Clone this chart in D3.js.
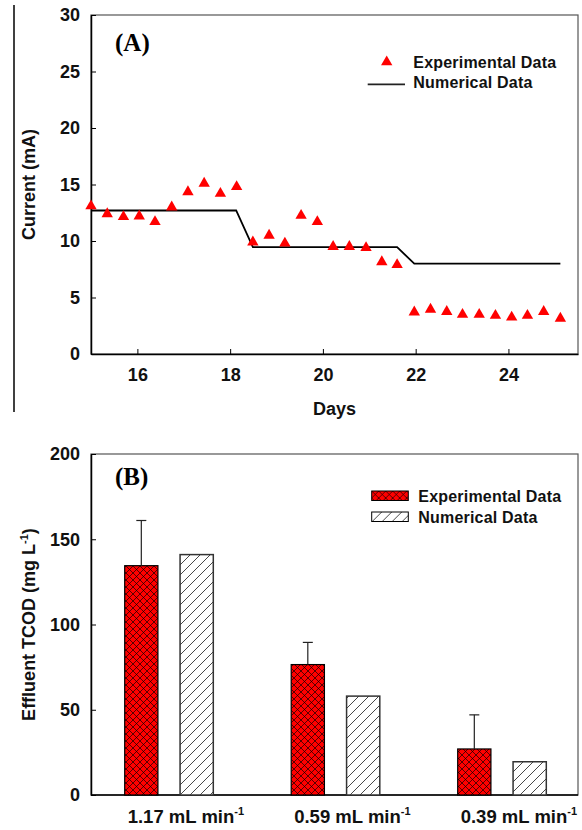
<!DOCTYPE html>
<html>
<head>
<meta charset="utf-8">
<script src="https://cdn.jsdelivr.net/npm/d3@7.9.0/dist/d3.min.js"></script>
<style>
  body { margin: 0; background: #fff; }
  svg { display: block; font-family: "Liberation Sans", Arial, sans-serif; }
</style>
</head>
<body>
<svg id="chart" width="582" height="830"></svg>
<script>
// ---- Panel A data: current vs days ----
const expDays = [15.0, 15.35, 15.7, 16.04, 16.38, 16.74, 17.09, 17.44, 17.79, 18.14,
                 18.49, 18.84, 19.18, 19.53, 19.88, 20.22, 20.57, 20.93, 21.27, 21.6,
                 21.97, 22.32, 22.67, 23.01, 23.37, 23.72, 24.07, 24.41, 24.76, 25.12];
const expCurrent = [13.1, 12.4, 12.15, 12.2, 11.7, 13.0, 14.35, 15.1, 14.2, 14.8,
                    9.9, 10.5, 9.8, 12.25, 11.7, 9.5, 9.5, 9.4, 8.15, 7.9,
                    3.7, 3.95, 3.75, 3.5, 3.5, 3.4, 3.25, 3.4, 3.75, 3.15];
const numDays    = [15.0, 18.13, 18.49, 21.6, 21.97, 25.12];
const numCurrent = [12.7, 12.7, 9.45, 9.45, 8.0, 8.0];
const yTicksA = [0, 5, 10, 15, 20, 25, 30];
const xTicksA = [16, 18, 20, 22, 24];

// ---- Panel B data: effluent TCOD per flow rate ----
const flowRates = ["1.17", "0.59", "0.39"];
const expTCOD   = [134.5, 76.5, 27];
const expErr    = [26.5, 13, 20];
const numTCOD   = [141, 58, 19.5];
const yTicksB = [0, 50, 100, 150, 200];
const seriesB = ["Experimental Data", "Numerical Data"];

const svg = d3.select("#chart");

// patterns for bars
const defs = svg.append("defs");
const cross = defs.append("pattern")
    .attr("id", "crossHatch")
    .attr("patternUnits", "userSpaceOnUse")
    .attr("width", 7).attr("height", 7);
cross.append("rect").attr("width", 7).attr("height", 7).attr("fill", "#ff0000");
cross.append("path")
    .attr("d", "M0,0L7,7M7,0L0,7")
    .attr("stroke", "#000").attr("stroke-width", 0.65);

const hatch = defs.append("pattern")
    .attr("id", "diagHatch")
    .attr("patternUnits", "userSpaceOnUse")
    .attr("width", 10).attr("height", 10);
hatch.append("rect").attr("width", 10).attr("height", 10).attr("fill", "#fff");
hatch.append("path")
    .attr("d", "M0,10L10,0M-1,1L1,-1M9,11L11,9")
    .attr("stroke", "#333").attr("stroke-width", 0.9);

// stray crop line at the far left
svg.append("line")
    .attr("x1", 14).attr("x2", 14).attr("y1", 5).attr("y2", 412)
    .attr("stroke", "#000").attr("stroke-width", 1.5);

// ================= Panel A =================
const mA = { left: 91, top: 15, width: 487, height: 339 };
const gA = svg.append("g").attr("transform", `translate(${mA.left},${mA.top})`);

const xA = d3.scaleLinear().domain([15, 25.5]).range([0, mA.width]);
const yA = d3.scaleLinear().domain([0, 30]).range([mA.height, 0]);

// frame
gA.append("rect")
    .attr("width", mA.width).attr("height", mA.height)
    .attr("fill", "none").attr("stroke", "#555").attr("stroke-width", 1.2);

const axA_x = gA.append("g")
    .attr("transform", `translate(0,${mA.height})`)
    .call(d3.axisBottom(xA).tickValues(xTicksA).tickSizeInner(-5).tickSizeOuter(0).tickPadding(14));
const axA_y = gA.append("g")
    .call(d3.axisLeft(yA).tickValues(yTicksA).tickSizeInner(-5).tickSizeOuter(0).tickPadding(11));
[axA_x, axA_y].forEach(ax => {
    ax.select(".domain").attr("stroke", "#000").attr("stroke-width", 1.5);
    ax.selectAll(".tick line").attr("stroke", "#000");
    ax.selectAll(".tick text")
        .attr("font-size", 18).attr("font-weight", "bold").attr("fill", "#111");
});

// numerical line
gA.append("path")
    .datum(numDays.map((d, i) => [d, numCurrent[i]]))
    .attr("fill", "none")
    .attr("stroke", "#000")
    .attr("stroke-width", 1.8)
    .attr("d", d3.line().x(d => xA(d[0])).y(d => yA(d[1])));

// experimental triangles
const tri = d3.symbol().type(d3.symbolTriangle).size(56);
gA.selectAll(".pt")
    .data(expDays.map((d, i) => [d, expCurrent[i]]))
    .enter()
    .append("path")
    .attr("class", "pt")
    .attr("d", tri)
    .attr("fill", "#ff0000")
    .attr("transform", d => `translate(${xA(d[0])},${yA(d[1])})`);

// panel label
gA.append("text")
    .attr("x", 24).attr("y", 36)
    .attr("font-family", "'Liberation Serif', 'Times New Roman', serif")
    .attr("font-weight", "bold").attr("font-size", 25)
    .text("(A)");

// legend A
gA.append("path")
    .attr("d", tri)
    .attr("fill", "#ff0000")
    .attr("transform", `translate(${386.7 - mA.left},${62 - mA.top})`);
gA.append("line")
    .attr("x1", 367.7 - mA.left).attr("x2", 405 - mA.left)
    .attr("y1", 84.3 - mA.top).attr("y2", 84.3 - mA.top)
    .attr("stroke", "#222").attr("stroke-width", 1.8);
gA.selectAll(".legA")
    .data(seriesB)
    .enter()
    .append("text")
    .attr("x", 413.3 - mA.left)
    .attr("y", (d, i) => 68.3 - mA.top + i * 20)
    .attr("font-size", 16).attr("font-weight", "bold").attr("fill", "#111")
    .attr("letter-spacing", 0.2)
    .text(d => d);

// axis titles A
svg.append("text")
    .attr("transform", `translate(35,${mA.top + mA.height / 2}) rotate(-90)`)
    .attr("text-anchor", "middle")
    .attr("font-size", 18).attr("font-weight", "bold").attr("fill", "#111")
    .text("Current (mA)");
svg.append("text")
    .attr("x", mA.left + mA.width / 2).attr("y", 415)
    .attr("text-anchor", "middle")
    .attr("font-size", 18).attr("font-weight", "bold").attr("fill", "#111")
    .text("Days");

// ================= Panel B =================
const mB = { left: 91, top: 454, width: 487, height: 341 };
const gB = svg.append("g").attr("transform", `translate(${mB.left},${mB.top})`);

const xB = d3.scalePoint().domain(flowRates).range([78, 411]);
const xSub = d3.scaleBand().domain(seriesB).range([-44.3, 44.3]).paddingInner(0.4);
const yB = d3.scaleLinear().domain([0, 200]).range([mB.height, 0]);

gB.append("rect")
    .attr("width", mB.width).attr("height", mB.height)
    .attr("fill", "none").attr("stroke", "#555").attr("stroke-width", 1.2);

const axB_y = gB.append("g")
    .call(d3.axisLeft(yB).tickValues(yTicksB).tickSizeInner(-5).tickSizeOuter(0).tickPadding(11));
axB_y.select(".domain").attr("stroke", "#000").attr("stroke-width", 1.5);
axB_y.selectAll(".tick line").attr("stroke", "#000");
axB_y.selectAll(".tick text")
    .attr("font-size", 18).attr("font-weight", "bold").attr("fill", "#111");
gB.append("line")
    .attr("x1", 0).attr("x2", mB.width)
    .attr("y1", mB.height).attr("y2", mB.height)
    .attr("stroke", "#000").attr("stroke-width", 1.5);

const rows = flowRates.map((f, i) => ({ f, exp: expTCOD[i], err: expErr[i], num: numTCOD[i] }));

// experimental bars
gB.selectAll(".barExp")
    .data(rows)
    .enter()
    .append("rect")
    .attr("class", "barExp")
    .attr("x", d => xB(d.f) + xSub(seriesB[0]))
    .attr("y", d => yB(d.exp))
    .attr("width", xSub.bandwidth())
    .attr("height", d => mB.height - yB(d.exp))
    .attr("fill", "url(#crossHatch)")
    .attr("stroke", "#000").attr("stroke-width", 1.2);

// numerical bars
gB.selectAll(".barNum")
    .data(rows)
    .enter()
    .append("rect")
    .attr("class", "barNum")
    .attr("x", d => xB(d.f) + xSub(seriesB[1]))
    .attr("y", d => yB(d.num))
    .attr("width", xSub.bandwidth())
    .attr("height", d => mB.height - yB(d.num))
    .attr("fill", "url(#diagHatch)")
    .attr("stroke", "#333").attr("stroke-width", 1.5);

// error bars (upper only)
const err = gB.selectAll(".err")
    .data(rows)
    .enter()
    .append("g")
    .attr("class", "err")
    .attr("transform", d => `translate(${xB(d.f) + xSub(seriesB[0]) + xSub.bandwidth() / 2},0)`);
err.append("line")
    .attr("x1", 0).attr("x2", 0)
    .attr("y1", d => yB(d.exp)).attr("y2", d => yB(d.exp + d.err))
    .attr("stroke", "#222").attr("stroke-width", 1.2);
err.append("line")
    .attr("x1", -5).attr("x2", 5)
    .attr("y1", d => yB(d.exp + d.err)).attr("y2", d => yB(d.exp + d.err))
    .attr("stroke", "#222").attr("stroke-width", 1.2);

// x category labels with superscript
const xl = gB.selectAll(".xl")
    .data(flowRates)
    .enter()
    .append("text")
    .attr("class", "xl")
    .attr("x", d => xB(d) + xSub(seriesB[0]) + 3)
    .attr("y", 823 - mB.top)
    .attr("font-size", 18.5).attr("font-weight", "bold").attr("fill", "#111");
xl.append("tspan").text(d => `${d} mL min`);
xl.append("tspan").attr("dy", -8).attr("font-size", 11).text("-1");

// panel label
gB.append("text")
    .attr("x", 24).attr("y", 485 - mB.top)
    .attr("font-family", "'Liberation Serif', 'Times New Roman', serif")
    .attr("font-weight", "bold").attr("font-size", 25)
    .text("(B)");

// legend B
const legB = gB.selectAll(".legB")
    .data(seriesB)
    .enter()
    .append("g")
    .attr("class", "legB")
    .attr("transform", (d, i) => `translate(${371.7 - mB.left},${491 - mB.top + i * 21})`);
legB.append("rect")
    .attr("width", 36.6).attr("height", 9.5)
    .attr("fill", (d, i) => i === 0 ? "url(#crossHatch)" : "url(#diagHatch)")
    .attr("stroke", "#000").attr("stroke-width", 1);
legB.append("text")
    .attr("x", 46.6).attr("y", 10.7)
    .attr("font-size", 16).attr("font-weight", "bold").attr("fill", "#111")
    .attr("letter-spacing", 0.2)
    .text(d => d);

// y title B
const yt = svg.append("text")
    .attr("transform", `translate(35,${mB.top + mB.height / 2}) rotate(-90)`)
    .attr("text-anchor", "middle")
    .attr("font-size", 18).attr("font-weight", "bold").attr("fill", "#111");
yt.append("tspan").text("Effluent TCOD (mg L");
yt.append("tspan").attr("dy", -7).attr("font-size", 11).text("-1");
yt.append("tspan").attr("dy", 7).text(")");
</script>
</body>
</html>
